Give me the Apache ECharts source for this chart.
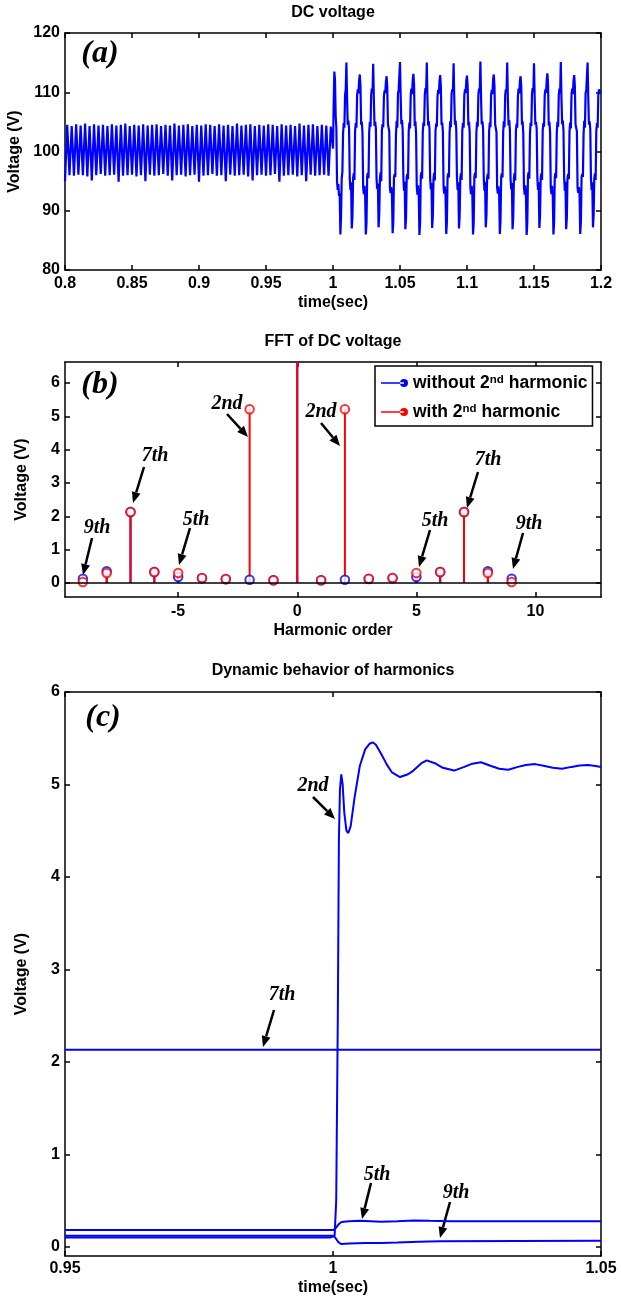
<!DOCTYPE html>
<html><head><meta charset="utf-8">
<script src="https://cdn.jsdelivr.net/npm/echarts@6/dist/echarts.min.js"></script>
<style>html,body{margin:0;padding:0;background:#fff}#c{width:621px;height:1298px}</style>
</head><body><div id="c"></div>
<script>
// ---------- Panel (a): DC voltage ----------
const dcStart = 0.8;
const dcPreStep = 1 / 600;     // samples before 1.0 s
const dcPostStart = 1.0;
const dcPostStep = 0.0005;     // samples after 1.0 s
const dcPreValues = [
  95, 104.5, 96, 104.3, 95.9, 104.6, 96.1, 104.4, 96, 104.7, 95.8, 104.3,
  95.1, 104.6, 96, 104.4, 96.2, 104.5, 95.9, 104.3, 96, 104.6, 96.1, 104.4,
  94.9, 104.5, 95.9, 104.7, 96, 104.3, 96.1, 104.5, 95.8, 104.4, 96, 104.6,
  95, 104.4, 96.1, 104.5, 95.9, 104.6, 96, 104.3, 96.2, 104.5, 95.9, 104.4,
  95.1, 104.7, 96, 104.4, 96.1, 104.5, 95.8, 104.6, 96, 104.3, 96.1, 104.5,
  94.9, 104.4, 95.9, 104.6, 96, 104.5, 96.2, 104.3, 95.9, 104.6, 96, 104.4,
  95, 104.5, 96.1, 104.3, 95.9, 104.7, 96, 104.4, 96.1, 104.5, 95.8, 104.6,
  95.1, 104.3, 96, 104.5, 96.1, 104.4, 95.9, 104.6, 96, 104.5, 96.2, 104.3,
  94.9, 104.6, 95.9, 104.4, 96, 104.5, 96.1, 104.3, 95.8, 104.7, 96, 104.4,
  95, 104.5, 96.1, 104.6, 95.9, 104.3, 96, 104.5, 96.1, 104.4, 95.9, 104.2
];
const dcPostValues = [
  100.5, 108, 113.5, 112, 106, 104, 95, 93.5, 94.5, 92.5, 93, 86, 89, 95.5, 96.5, 103, 104.8, 104, 109.5, 110.5,
  115, 109, 104.5, 105.2, 103.8, 95.5, 93.5, 94.8, 87, 89, 95.5, 96.3, 95.2, 103.5, 104.8, 104, 109.5, 110.5, 109.8, 112, 113, 111, 104.5, 105, 103.2, 94, 92.8, 94.2, 92.5, 86, 88, 95.8, 96.4, 95.5, 103.2, 105, 104.2, 109.6, 110.6, 110,
  114.8, 108.7, 104.3, 105, 103.9, 95.3, 93.7, 94.6, 87.2, 89.3, 95.3, 96.5, 95, 103.6, 104.6, 104.1, 109.3, 110.3, 109.9, 111.8, 112.7, 110.8, 104.6, 104.8, 103.4, 93.8, 93, 94, 92.7, 86.2, 88.2, 95.6, 96.2, 95.7, 103, 105.2, 104, 109.8, 110.4, 110.2,
  115.1, 109.2, 104.6, 105.3, 103.6, 95.6, 93.4, 94.9, 86.9, 88.8, 95.7, 96.2, 95.3, 103.4, 104.9, 103.9, 109.6, 110.6, 109.7, 112.1, 113.1, 111.2, 104.3, 105.1, 103.1, 94.2, 92.7, 94.3, 92.4, 85.9, 87.9, 95.9, 96.5, 95.4, 103.3, 104.9, 104.3, 109.5, 110.7, 109.9,
  115, 108.9, 104.4, 105.1, 103.8, 95.4, 93.6, 94.7, 87.1, 89.1, 95.4, 96.4, 95.1, 103.5, 104.7, 104.2, 109.4, 110.4, 109.8, 111.9, 112.9, 110.9, 104.5, 104.9, 103.3, 94.1, 92.9, 94.1, 92.6, 86.1, 88.1, 95.7, 96.3, 95.6, 103.1, 105.1, 104.1, 109.7, 110.5, 110.1,
  114.9, 109.1, 104.5, 105.2, 103.7, 95.5, 93.5, 94.8, 87, 89, 95.6, 96.3, 95.2, 103.6, 104.8, 104, 109.5, 110.5, 109.9, 112, 112.8, 111, 104.4, 105, 103.2, 94, 92.8, 94.2, 92.5, 86, 88, 95.8, 96.4, 95.5, 103.2, 105, 104.2, 109.6, 110.6, 110,
  115.2, 109, 104.6, 105.1, 103.9, 95.6, 93.4, 94.9, 87.2, 89.2, 95.5, 96.2, 95.3, 103.4, 104.9, 104.1, 109.6, 110.4, 109.7, 112.2, 113, 111.1, 104.6, 104.9, 103.3, 93.9, 92.9, 94.1, 92.6, 86.1, 88.2, 95.7, 96.3, 95.6, 103.3, 105.1, 104.1, 109.5, 110.5, 110.1,
  115, 108.8, 104.4, 105.3, 103.7, 95.4, 93.6, 94.7, 86.9, 88.9, 95.4, 96.4, 95.1, 103.5, 104.7, 104, 109.4, 110.6, 109.8, 111.9, 112.7, 110.9, 104.5, 105.1, 103.1, 94.1, 92.7, 94.3, 92.4, 85.9, 87.9, 95.9, 96.5, 95.4, 103.1, 104.9, 104.3, 109.7, 110.7, 110,
  114.9, 109.1, 104.5, 105, 103.8, 95.5, 93.5, 94.8, 87.1, 89.1, 95.6, 96.3, 95.2, 103.6, 104.8, 104.2, 109.5, 110.5, 109.9, 112.1, 113.2, 111.2, 104.4, 105, 103.2, 94, 92.8, 94.2, 92.5, 86, 88, 95.8, 96.4, 95.5, 103.2, 105, 104.2, 109.6, 110.6, 109.8,
  115.1, 109, 104.6, 105.2, 103.6, 95.6, 93.4, 94.9, 86.9, 88.8, 95.5, 96.2, 95.3, 103.4, 104.9, 103.9, 109.6, 110.6, 109.7, 112, 112.9, 111, 104.6, 104.8, 103.4, 93.9, 93, 94, 92.7, 86.1, 88.1, 95.7, 96.2, 95.7, 103, 105.2, 104, 109.8, 110.4, 110.1,
  115, 109, 104.5, 105.1, 103.8, 95.5, 93.5, 94.8, 87.2, 89.2, 95.5, 96.3, 95.2, 103.5, 104.8, 104, 109.5, 110.5, 109.8, 110.2, 110
];
const dcTimeTicks = [0.8, 0.85, 0.9, 0.95, 1, 1.05, 1.1, 1.15, 1.2];
const dcVoltTicks = [80, 90, 100, 110, 120];

// ---------- Panel (b): FFT ----------
const harmonicOrders = [-9, -8, -7, -6, -5, -4, -3, -2, -1, 0, 1, 2, 3, 4, 5, 6, 7, 8, 9];
const withoutSecond = [0.13, 0.35, 2.13, 0.33, 0.18, 0.14, 0.11, 0.10, 0.08, 100, 0.08, 0.10, 0.12, 0.14, 0.18, 0.33, 2.13, 0.35, 0.13];
const withSecond    = [0.03, 0.30, 2.13, 0.33, 0.30, 0.15, 0.12, 5.21, 0.08, 100, 0.08, 5.21, 0.13, 0.15, 0.30, 0.33, 2.13, 0.30, 0.03];
const fftOrderTicks = [-5, 0, 5, 10];
const fftVoltTicks = [0, 1, 2, 3, 4, 5, 6];

// ---------- Panel (c): dynamic behaviour ----------
const h2Time = [0.95, 0.9995, 1.0003, 1.0006, 1.0009, 1.0011, 1.0013, 1.00155, 1.0018, 1.0021, 1.0025, 1.00286, 1.0033, 1.004, 1.005, 1.006, 1.0068, 1.0074, 1.008, 1.009, 1.010, 1.011, 1.0125, 1.014, 1.015, 1.0165, 1.0175, 1.019, 1.0205, 1.0226, 1.0245, 1.026, 1.0276, 1.0295, 1.031, 1.0327, 1.0345, 1.036, 1.0377, 1.0395, 1.041, 1.0427, 1.0445, 1.046, 1.0476, 1.049, 1.05];
const h2Values = [0.10, 0.10, 0.12, 0.5, 2.5, 4.4, 4.95, 5.11, 5.0, 4.7, 4.5, 4.475, 4.55, 4.85, 5.2, 5.38, 5.44, 5.456, 5.43, 5.33, 5.22, 5.13, 5.08, 5.11, 5.15, 5.23, 5.26, 5.23, 5.18, 5.15, 5.19, 5.225, 5.24, 5.2, 5.17, 5.16, 5.19, 5.21, 5.22, 5.2, 5.18, 5.17, 5.19, 5.205, 5.21, 5.2, 5.19];
const h5Time = [0.95, 1.0, 1.0005, 1.001, 1.0015, 1.002, 1.003, 1.005, 1.007, 1.009, 1.012, 1.015, 1.018, 1.022, 1.05];
const h5Values = [0.18, 0.18, 0.20, 0.24, 0.265, 0.27, 0.275, 0.28, 0.275, 0.27, 0.275, 0.285, 0.28, 0.275, 0.275];
const h7Time = [0.95, 1.0, 1.05];
const h7Values = [2.13, 2.13, 2.13];
const h9Time = [0.95, 1.0, 1.0004, 1.001, 1.0015, 1.003, 1.006, 1.009, 1.012, 1.016, 1.02, 1.05];
const h9Values = [0.12, 0.12, 0.10, 0.05, 0.03, 0.035, 0.04, 0.04, 0.045, 0.055, 0.06, 0.065];
const dynTimeTicks = [0.95, 1, 1.05];
const dynVoltTicks = [0, 1, 2, 3, 4, 5, 6];

// ---------- build ----------
const F = '"Liberation Sans", Arial, sans-serif';
const SERIF = '"Liberation Serif", "Times New Roman", serif';
const BLUE = '#0000ff', RED = '#ff0000';
const fmt = v => String(+(+v).toFixed(2));

const lineS = {color: '#000', width: 1.5};
function xAxes(grid, min, max, ticks, name, nameGap, margin) {
  return [
    {type: 'value', gridIndex: grid, position: 'bottom', min, max, name, nameLocation: 'middle', nameGap,
     nameTextStyle: {fontFamily: F, fontSize: 16, fontWeight: 'bold', color: '#000'},
     axisLine: {onZero: false, lineStyle: lineS},
     axisTick: {inside: true, length: 5, customValues: ticks, lineStyle: lineS},
     axisLabel: {customValues: ticks, formatter: fmt, fontFamily: F, fontSize: 16, fontWeight: 'bold', color: '#000', margin},
     splitLine: {show: false}},
    {type: 'value', gridIndex: grid, position: 'top', min, max,
     axisLine: {onZero: false, lineStyle: lineS},
     axisTick: {inside: true, length: 5, customValues: ticks, lineStyle: lineS},
     axisLabel: {show: false}, splitLine: {show: false}}
  ];
}
function yAxes(grid, min, max, ticks, name, nameGap) {
  return [
    {type: 'value', gridIndex: grid, position: 'left', min, max, name, nameLocation: 'middle', nameGap,
     nameTextStyle: {fontFamily: F, fontSize: 16, fontWeight: 'bold', color: '#000'},
     axisLine: {onZero: false, lineStyle: lineS},
     axisTick: {inside: true, length: 5, customValues: ticks, lineStyle: lineS},
     axisLabel: {customValues: ticks, formatter: fmt, fontFamily: F, fontSize: 16, fontWeight: 'bold', color: '#000', margin: 5},
     splitLine: {show: false}},
    {type: 'value', gridIndex: grid, position: 'right', min, max,
     axisLine: {onZero: false, lineStyle: lineS},
     axisTick: {inside: true, length: 5, customValues: ticks, lineStyle: lineS},
     axisLabel: {show: false}, splitLine: {show: false}}
  ];
}

const dcData = dcPreValues.map((v, i) => [dcStart + i * dcPreStep, v])
  .concat(dcPostValues.map((v, i) => [dcPostStart + i * dcPostStep, v]));

function stemSeries(name, values, color) {
  return {
    type: 'custom', name, xAxisIndex: 2, yAxisIndex: 2, clip: true, itemStyle: {color},
    data: harmonicOrders.map((o, i) => [o, values[i]]),
    renderItem: (params, api) => {
      const p0 = api.coord([api.value(0), 0]);
      const p1 = api.coord([api.value(0), api.value(1)]);
      return {type: 'line', shape: {x1: p0[0], y1: p0[1], x2: p1[0], y2: p1[1]}, style: {stroke: color, lineWidth: 2}};
    }
  };
}
function markerSeries(values, color, extra) {
  return Object.assign({
    type: 'scatter', xAxisIndex: 2, yAxisIndex: 2, clip: true, symbol: 'circle', symbolSize: 8.5,
    itemStyle: {color: '#fff', borderColor: color, borderWidth: 2},
    data: harmonicOrders.map((o, i) => [o, values[i]])
  }, extra || {});
}
function dynSeries(t, v) {
  return {type: 'line', xAxisIndex: 4, yAxisIndex: 4, showSymbol: false, clip: true,
    lineStyle: {color: BLUE, width: 2}, itemStyle: {color: BLUE},
    data: t.map((x, i) => [x, v[i]])};
}

// annotation helpers (pixel positions of decorations)
function arrow(x1, y1, x2, y2) {
  const dx = x2 - x1, dy = y2 - y1, L = Math.hypot(dx, dy), ux = dx / L, uy = dy / L;
  const hl = 11, hw = 4.5;
  const bx = x2 - ux * hl, by = y2 - uy * hl;
  return [
    {type: 'line', shape: {x1, y1, x2: bx, y2: by}, style: {stroke: '#000', lineWidth: 2.5}},
    {type: 'polygon', shape: {points: [[x2, y2], [bx - uy * hw, by + ux * hw], [bx + uy * hw, by - ux * hw]]}, style: {fill: '#000'}}
  ];
}
function label(x, y, text, size) {
  return {type: 'text', x, y, style: {text, fontFamily: SERIF, fontSize: size, fontWeight: 'bold', fontStyle: 'italic', fill: '#000', align: 'center', verticalAlign: 'middle'}};
}
function title(x, y, text) {
  return {type: 'text', x, y, style: {text, fontFamily: F, fontSize: 16, fontWeight: 'bold', fill: '#000', align: 'center', verticalAlign: 'middle'}};
}

const graphics = [
  title(333, 13, 'DC voltage'),
  title(333, 342, 'FFT of DC voltage'),
  title(333, 671, 'Dynamic behavior of harmonics'),
  label(100, 54, '(a)', 32),
  label(100, 385, '(b)', 32),
  label(103, 718, '(c)', 32),
  // panel b
  label(97, 528, '9th', 20), ...arrow(92, 538, 83, 575),
  label(155, 456, '7th', 20), ...arrow(144, 467, 133, 503),
  label(196, 520, '5th', 20), ...arrow(190, 528, 179, 565),
  label(227, 404, '2nd', 20), ...arrow(227, 414, 248, 437),
  label(321, 412, '2nd', 20), ...arrow(321, 423, 340, 446),
  label(435, 521, '5th', 20), ...arrow(430, 530, 419, 567),
  label(488, 460, '7th', 20), ...arrow(478, 472, 467, 508),
  label(529, 524, '9th', 20), ...arrow(523, 533, 513, 569),
  // panel c
  label(313, 786, '2nd', 20), ...arrow(313, 797, 335, 819),
  label(282, 995, '7th', 20), ...arrow(274, 1010, 263, 1047),
  label(377, 1175, '5th', 20), ...arrow(371, 1183, 362, 1219),
  label(456, 1193, '9th', 20), ...arrow(450, 1202, 440, 1238)
];

const ICON = 'path://M0,3.2H23V4.8H0Z M19,4A4,4 0 1,0 27,4A4,4 0 1,0 19,4Z';

const option = {
  animation: false,
  backgroundColor: '#fff',
  grid: [
    {left: 65, top: 33, width: 536, height: 237, outerBoundsMode: 'none'},
    {left: 65, top: 362, width: 536, height: 235, outerBoundsMode: 'none'},
    {left: 65, top: 692, width: 536, height: 564, outerBoundsMode: 'none'}
  ],
  xAxis: [
    ...xAxes(0, 0.8, 1.2, dcTimeTicks, 'time(sec)', 25, 6),
    ...xAxes(1, -9.75, 12.75, fftOrderTicks, 'Harmonic order', 26, 7),
    ...xAxes(2, 0.95, 1.05, dynTimeTicks, 'time(sec)', 24, 5)
  ],
  yAxis: [
    ...yAxes(0, 80, 120, dcVoltTicks, 'Voltage (V)', 35),
    ...yAxes(1, -0.42, 6.63, fftVoltTicks, 'Voltage (V)', 35),
    ...yAxes(2, -0.1, 6, dynVoltTicks, 'Voltage (V)', 35)
  ],
  legend: {
    left: 375, top: 366, orient: 'vertical', selectedMode: false,
    backgroundColor: '#fff', borderColor: '#000', borderWidth: 1.5, borderRadius: 0,
    padding: [8, 5, 5, 6], itemGap: 11, itemWidth: 27, itemHeight: 8,
    data: [
      {name: 'without 2nd harmonic', icon: ICON, itemStyle: {color: BLUE}},
      {name: 'with 2nd harmonic', icon: ICON, itemStyle: {color: RED}}
    ],
    formatter: n => n.replace('2nd', '2{sup|nd}'),
    textStyle: {fontFamily: F, fontSize: 17.5, fontWeight: 'bold', color: '#000',
      rich: {sup: {fontFamily: F, fontSize: 11.5, fontWeight: 'bold', color: '#000', verticalAlign: 'top', lineHeight: 11}}}
  },
  graphic: graphics,
  series: [
    {type: 'line', xAxisIndex: 0, yAxisIndex: 0, showSymbol: false, clip: true,
     lineStyle: {color: BLUE, width: 2.2}, itemStyle: {color: BLUE}, data: dcData},
    stemSeries('without 2nd harmonic', withoutSecond, BLUE),
    markerSeries(withoutSecond, BLUE, {
      markLine: {silent: true, symbol: 'none', label: {show: false}, lineStyle: {color: '#000', width: 1.5, type: 'solid'}, data: [{yAxis: 0}]}
    }),
    stemSeries('with 2nd harmonic', withSecond, RED),
    markerSeries(withSecond, RED),
    dynSeries(h7Time, h7Values),
    dynSeries(h5Time, h5Values),
    dynSeries(h9Time, h9Values),
    dynSeries(h2Time, h2Values)
  ]
};
const chart = echarts.init(document.getElementById('c'), null, {renderer: 'canvas'});
chart.setOption(option);
</script></body></html>
